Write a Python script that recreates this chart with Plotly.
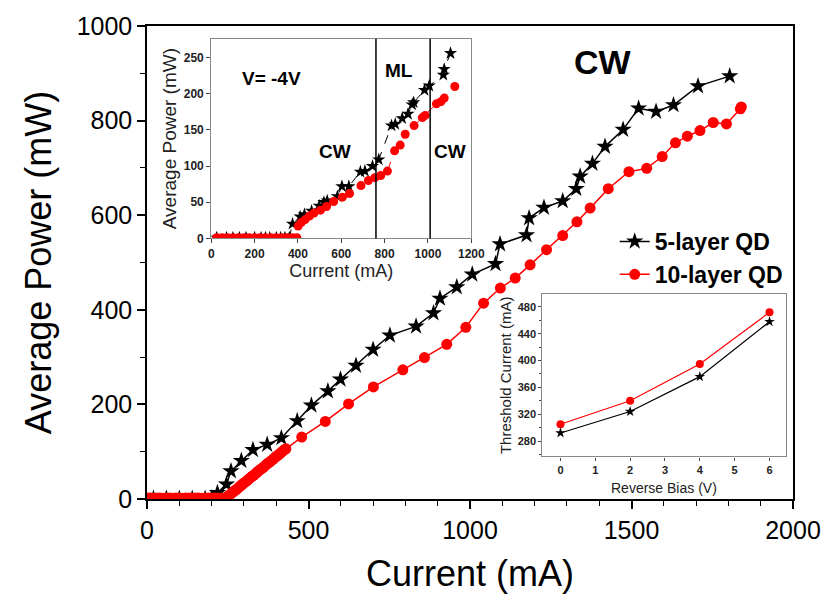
import plotly.graph_objects as go

# ---------------- main data ----------------
main5_x = [20, 60, 100, 140, 180, 200, 218, 246, 260, 292, 328, 372, 416, 465, 509, 560, 599, 647,
           700, 752, 833, 887, 907, 959, 1007, 1079, 1093, 1175, 1183, 1229, 1287, 1329, 1341,
           1379, 1418, 1474, 1522, 1576, 1630, 1706, 1804]
main5_y = [1, 1, 1, 1, 1, 2, 13, 31, 59, 81, 104, 115, 129, 165, 198, 228, 253, 282,
           316, 346, 365, 393, 424, 448, 475, 497, 539, 558, 594, 616, 630, 656, 682,
           709, 745, 781, 826, 819, 833, 873, 894]

main10_x = [0, 10, 20, 30, 40, 50, 60, 70, 80, 90, 100, 110, 120, 130, 140, 150, 160, 170, 180,
            190, 200, 210, 220, 230, 240, 245, 250, 255, 260, 265, 270, 275, 280, 285, 290, 295,
            300, 305, 310, 315, 320, 325, 330, 335, 340, 345, 350, 355, 360, 365, 370, 375, 380,
            385, 390, 395, 400, 405, 410, 415, 420, 425, 430,
            479, 552, 624, 701, 792, 859, 928, 987, 1042, 1094, 1140, 1186, 1237, 1287, 1331,
            1372, 1428, 1492, 1547, 1595, 1636, 1673, 1712, 1753, 1794, 1837, 1840]
main10_y = [2, 2, 1.5, 2, 2, 1.5, 2, 2, 1.5, 2, 2, 1.5, 2, 2, 1.5, 2, 2, 1.5, 2,
            2, 1.5, 2, 2, 1.5, 1, 3, 6, 8, 11, 14, 17, 19, 22, 25, 28, 31,
            34, 36, 39, 42, 45, 48, 50, 53, 56, 59, 62, 64, 67, 70, 73, 76, 78,
            81, 84, 87, 90, 92, 95, 98, 101, 104, 106,
            131, 164, 201, 237, 273, 299, 327, 363, 414, 446, 467, 495, 527, 557, 586,
            615, 656, 692, 699, 724, 753, 767, 779, 796, 793, 825, 829]

# ---------------- inset 1 (V = -4V) ----------------
in1_5_x = [25, 70, 100, 130, 160, 200, 230, 250, 270, 300, 320, 340, 360,
           375, 410, 430, 463, 498, 520, 535, 582, 603, 635, 688, 709, 744, 773,
           832, 849, 881, 908, 927, 934, 984, 1006, 1071, 1075, 1104]
in1_5_y = [1, 1, 1, 1, 1, 1, 1, 1, 1, 1, 1, 1, 1,
           20, 30, 33, 38, 45, 50, 52, 58, 72, 72, 92, 93, 100, 109,
           156, 158, 166, 172, 185, 188, 205, 211, 226, 234, 256]
in1_10_x = [25, 50, 75, 100, 125, 150, 175, 200, 225, 250, 275, 300, 325, 350, 375, 395,
            401, 415, 433, 453, 474, 504, 532, 565, 605, 638, 691, 725, 755, 782, 813,
            846, 872, 895, 936, 974, 987, 1039, 1060, 1075, 1124]
in1_10_y = [1, 1, 1, 1, 1, 1, 1, 1, 1, 1, 1, 1, 1, 1, 1, 1,
            17, 22, 26, 31, 35, 39, 44, 51, 57, 62, 73, 80, 84, 87, 93,
            121, 129, 144, 156, 167, 170, 186, 189, 194, 210]
in1_vlines = [760, 1010]

# ---------------- inset 2 (threshold vs bias) ----------------
bias = [0, 2, 4, 6]
thr_5 = [292, 324, 376, 458]
thr_10 = [305, 340, 395, 472]

FONT = "Arial, Liberation Sans, sans-serif"
BLACK = "#000000"
RED = "#ff0000"

fig = go.Figure()

# main traces
fig.add_trace(go.Scatter(x=main5_x, y=main5_y, mode="lines+markers", name="5-layer QD",
                         line=dict(color=BLACK, width=1.5),
                         marker=dict(symbol="star", size=13, color=BLACK, line=dict(width=0)),
                         xaxis="x", yaxis="y"))
fig.add_trace(go.Scatter(x=main10_x, y=main10_y, mode="lines+markers", name="10-layer QD",
                         line=dict(color=RED, width=1.5),
                         marker=dict(symbol="circle", size=11, color=RED, line=dict(width=0)),
                         xaxis="x", yaxis="y"))

# inset 1
fig.add_trace(go.Scatter(x=in1_5_x, y=in1_5_y, mode="lines+markers", showlegend=False,
                         line=dict(color=BLACK, width=1, dash="dash"),
                         marker=dict(symbol="star", size=10, color=BLACK, line=dict(width=0)),
                         xaxis="x2", yaxis="y2"))
fig.add_trace(go.Scatter(x=in1_10_x, y=in1_10_y, mode="lines+markers", showlegend=False,
                         line=dict(color=RED, width=1, dash="dash"),
                         marker=dict(symbol="circle", size=9, color=RED, line=dict(width=0)),
                         xaxis="x2", yaxis="y2"))

# inset 2
fig.add_trace(go.Scatter(x=bias, y=thr_10, mode="lines+markers", showlegend=False,
                         line=dict(color=RED, width=1.2),
                         marker=dict(symbol="circle", size=8, color=RED),
                         xaxis="x3", yaxis="y3"))
fig.add_trace(go.Scatter(x=bias, y=thr_5, mode="lines+markers", showlegend=False,
                         line=dict(color=BLACK, width=1.2),
                         marker=dict(symbol="star", size=8, color=BLACK),
                         xaxis="x3", yaxis="y3"))

shapes = []
for v in in1_vlines:
    shapes.append(dict(type="line", xref="x2", yref="y2 domain", x0=v, x1=v, y0=0, y1=1,
                       line=dict(color=BLACK, width=1.5)))

in_ax_common = dict(showline=True, mirror=True, linecolor="#888888", linewidth=1.2,
                    ticks="outside", tickcolor="#444444", showgrid=False,
                    zeroline=False)

fig.update_layout(
    width=833, height=608,
    margin=dict(l=147, r=33, t=20, b=109),
    paper_bgcolor="white", plot_bgcolor="white",
    font=dict(family=FONT, color=BLACK),
    showlegend=True,
    legend=dict(x=0.724, y=0.59, xanchor="left", yanchor="top",
                font=dict(family=FONT, size=23, color=BLACK, weight="bold"),
                bgcolor="rgba(0,0,0,0)", tracegroupgap=0),
    xaxis=dict(domain=[0, 1], range=[0, 2000], tickvals=[0, 500, 1000, 1500, 2000],
               showline=True, mirror=True, linecolor=BLACK, linewidth=1.5,
               ticks="outside", ticklen=8, tickwidth=1.5, tickcolor=BLACK,
               minor=dict(dtick=100, ticks="outside", ticklen=5, tickcolor=BLACK, tickwidth=1),
               showgrid=False, zeroline=False,
               tickfont=dict(family=FONT, size=25, color=BLACK),
               title=dict(text="Current (mA)", font=dict(family=FONT, size=36, color=BLACK), standoff=18)),
    yaxis=dict(domain=[0, 1], range=[0, 1000], tickvals=[0, 200, 400, 600, 800, 1000],
               showline=True, mirror=True, linecolor=BLACK, linewidth=1.5,
               ticks="outside", ticklen=8, tickwidth=1.5, tickcolor=BLACK,
               minor=dict(dtick=100, ticks="outside", ticklen=5, tickcolor=BLACK, tickwidth=1),
               showgrid=False, zeroline=False,
               tickfont=dict(family=FONT, size=25, color=BLACK),
               title=dict(text="Average Power (mW)", font=dict(family=FONT, size=36, color=BLACK), standoff=14)),
    xaxis2=dict(domain=[0.0995, 0.502], anchor="y2", range=[0, 1200],
                tickvals=[0, 200, 400, 600, 800, 1000, 1200], ticklen=4,
                tickfont=dict(family=FONT, size=12, color="#222222", weight="bold"),
                title=dict(text="Current (mA)", font=dict(family=FONT, size=18, color="#222222"), standoff=2),
                **in_ax_common),
    yaxis2=dict(domain=[0.551, 0.973], anchor="x2", range=[0, 276],
                tickvals=[0, 50, 100, 150, 200, 250], ticklen=4,
                tickfont=dict(family=FONT, size=12, color="#222222", weight="bold"),
                title=dict(text="Average Power (mW)", font=dict(family=FONT, size=19, color="#222222"), standoff=2),
                **in_ax_common),
    xaxis3=dict(domain=[0.612, 0.989], anchor="y3", range=[-0.52, 6.47],
                tickvals=[0, 1, 2, 3, 4, 5, 6], ticklen=3,
                tickfont=dict(family=FONT, size=11, color="#222222", weight="bold"),
                **in_ax_common),
    yaxis3=dict(domain=[0.09, 0.433], anchor="x3", range=[257, 499],
                tickvals=[280, 320, 360, 400, 440, 480], ticklen=3,
                tickfont=dict(family=FONT, size=11, color="#222222", weight="bold"),
                minor=dict(dtick=20, ticks="outside", ticklen=2, tickcolor="#444444"),
                title=dict(text="Threshold Current (mA)", font=dict(family=FONT, size=15, color="#222222"), standoff=2),
                **in_ax_common),
    shapes=shapes,
    annotations=[
        dict(text="Reverse Bias (V)", x=0.5, y=0.0, xref="x3 domain", yref="paper",
             xanchor="center", yanchor="bottom", yshift=1, showarrow=False,
             font=dict(family=FONT, size=14, color="#222222")),
        dict(text="<b>CW</b>", x=1412, y=923, xref="x", yref="y", showarrow=False,
             font=dict(family=FONT, size=34, color=BLACK)),
        dict(text="<b>V= -4V</b>", x=278, y=221, xref="x2", yref="y2", showarrow=False,
             font=dict(family=FONT, size=19, color=BLACK)),
        dict(text="<b>ML</b>", x=867, y=232, xref="x2", yref="y2", showarrow=False,
             font=dict(family=FONT, size=19, color=BLACK)),
        dict(text="<b>CW</b>", x=570, y=120, xref="x2", yref="y2", showarrow=False,
             font=dict(family=FONT, size=19, color=BLACK)),
        dict(text="<b>CW</b>", x=1104, y=120, xref="x2", yref="y2", showarrow=False,
             font=dict(family=FONT, size=19, color=BLACK)),
    ],
)

fig.write_html("out.html")
